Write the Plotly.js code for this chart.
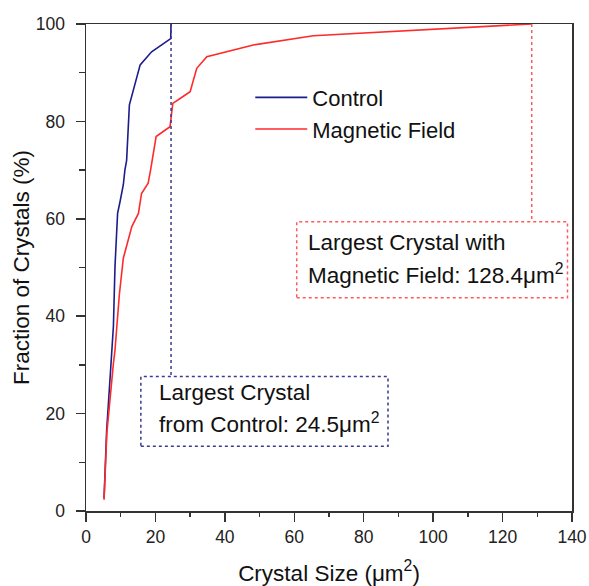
<!DOCTYPE html>
<html>
<head>
<meta charset="utf-8">
<script src="https://cdn.plot.ly/plotly-3.0.1.min.js"></script>
<style>html,body{margin:0;padding:0;background:#fff;}#chart{width:589px;height:586px;}</style>
</head>
<body>
<div id="chart"></div>
<script>
// Cumulative distribution
const controlSize = [5.2, 5.95, 7.0, 7.4, 7.9, 8.35, 9.1, 9.8, 10.75, 11.2, 11.7, 12.5, 15.6, 18.9, 24.4, 24.5];
const controlFrac = [2.6, 16.6, 28, 33, 38, 50.2, 61.1, 63.5, 67, 70, 72, 83.4, 91.6, 94.3, 97, 100];
const magSize = [5.2, 6.0, 7.9, 8.35, 9.6, 10.75, 13.2, 15.1, 16.0, 17.9, 18.6, 20.2, 24.2, 25.0, 27.1, 30.0, 31.9, 34.8, 48.2, 65.5, 128.4];
const magFrac = [2.3, 16, 30.3, 33, 44.4, 51.9, 58.4, 61.1, 65.2, 67.3, 70, 76.9, 78.9, 83.7, 84.7, 86.1, 90.9, 93.3, 95.7, 97.6, 100];
const seriesNames = ["Control", "Magnetic Field"];
const controlMax = 24.5;
const magMax = 128.4;
const xTicks = [0, 20, 40, 60, 80, 100, 120, 140];
const yTicks = [0, 20, 40, 60, 80, 100];

const FONT = "Arial, 'Liberation Sans', sans-serif";
const BLUE = "#1c1c8c";
const RED = "#ff2a2a";

const traces = [
  {x: controlSize, y: controlFrac, name: seriesNames[0], mode: "lines", line: {color: BLUE, width: 1.6}},
  {x: magSize, y: magFrac, name: seriesNames[1], mode: "lines", line: {color: RED, width: 1.6}}
];

const layout = {
  width: 589, height: 586,
  margin: {l: 86, r: 17, t: 24, b: 75},
  paper_bgcolor: "#fff", plot_bgcolor: "#fff",
  font: {family: FONT, color: "#111"},
  showlegend: true,
  legend: {x: 0.338, y: 0.892, xanchor: "left", yanchor: "top", bgcolor: "rgba(0,0,0,0)",
           font: {size: 22, family: FONT, color: "#111"}, itemwidth: 52, tracegroupgap: 0},
  xaxis: {
    range: [0, 140], tickvals: xTicks, ticktext: xTicks.map(String),
    showgrid: false, zeroline: false, showline: true, mirror: true,
    linecolor: "#333", linewidth: 1.5, ticks: "outside", ticklen: 9, tickwidth: 1.5, tickcolor: "#333",
    minor: {dtick: 10, tick0: 0, ticks: "outside", ticklen: 4, tickwidth: 1.5, tickcolor: "#333", showgrid: false},
    tickfont: {size: 17.5, family: FONT, color: "#222"}, ticklabelstandoff: 0,
    title: {text: "Crystal Size (μm<sup>2</sup>)", font: {size: 22.5, family: FONT, color: "#111"}, standoff: 19}
  },
  yaxis: {
    range: [0, 100], tickvals: yTicks, ticktext: yTicks.map(String),
    showgrid: false, zeroline: false, showline: true, mirror: true,
    linecolor: "#333", linewidth: 1.5, ticks: "outside", ticklen: 9, tickwidth: 1.5, tickcolor: "#333",
    minor: {dtick: 10, tick0: 0, ticks: "outside", ticklen: 6, tickwidth: 1.5, tickcolor: "#333", showgrid: false},
    tickfont: {size: 17.5, family: FONT, color: "#222"}, ticklabelstandoff: 7,
    title: {text: "Fraction of Crystals (%)", font: {size: 22.5, family: FONT, color: "#111"}, standoff: 0}
  },
  shapes: [
    {type: "line", xref: "x", yref: "y", x0: controlMax, x1: controlMax, y0: 100, y1: 27.6,
     line: {color: "#3a3a90", width: 1.5, dash: "dot"}},
    {type: "rect", xref: "x", yref: "y", x0: 15.8, x1: 87.0, y0: 13.3, y1: 27.6,
     line: {color: "#3a3a90", width: 1.5, dash: "dot"}},
    {type: "line", xref: "x", yref: "y", x0: magMax, x1: magMax, y0: 100, y1: 59.4,
     line: {color: "#ff5a5a", width: 1.5, dash: "dot"}},
    {type: "rect", xref: "x", yref: "y", x0: 60.7, x1: 138.7, y0: 43.8, y1: 59.4,
     line: {color: "#ff5a5a", width: 1.5, dash: "dot"}}
  ],
  annotations: [
    {xref: "x", yref: "y", x: 20.4, y: 24.3, xanchor: "left", yanchor: "middle", showarrow: false,
     text: "Largest Crystal", font: {size: 22.5, family: FONT, color: "#111"}},
    {xref: "x", yref: "y", x: 20.4, y: 18.0, xanchor: "left", yanchor: "middle", showarrow: false,
     text: "from Control: " + controlMax + "μm<sup>2</sup>", font: {size: 22.5, family: FONT, color: "#111"}},
    {xref: "x", yref: "y", x: 63.3, y: 55.1, xanchor: "left", yanchor: "middle", showarrow: false,
     text: "Largest Crystal with", font: {size: 22.5, family: FONT, color: "#111"}},
    {xref: "x", yref: "y", x: 63.3, y: 48.6, xanchor: "left", yanchor: "middle", showarrow: false,
     text: "Magnetic Field: " + magMax + "μm<sup>2</sup>", font: {size: 22.5, family: FONT, color: "#111"}}
  ]
};

Plotly.newPlot("chart", traces, layout, {displayModeBar: false, staticPlot: true});
</script>
</body>
</html>
